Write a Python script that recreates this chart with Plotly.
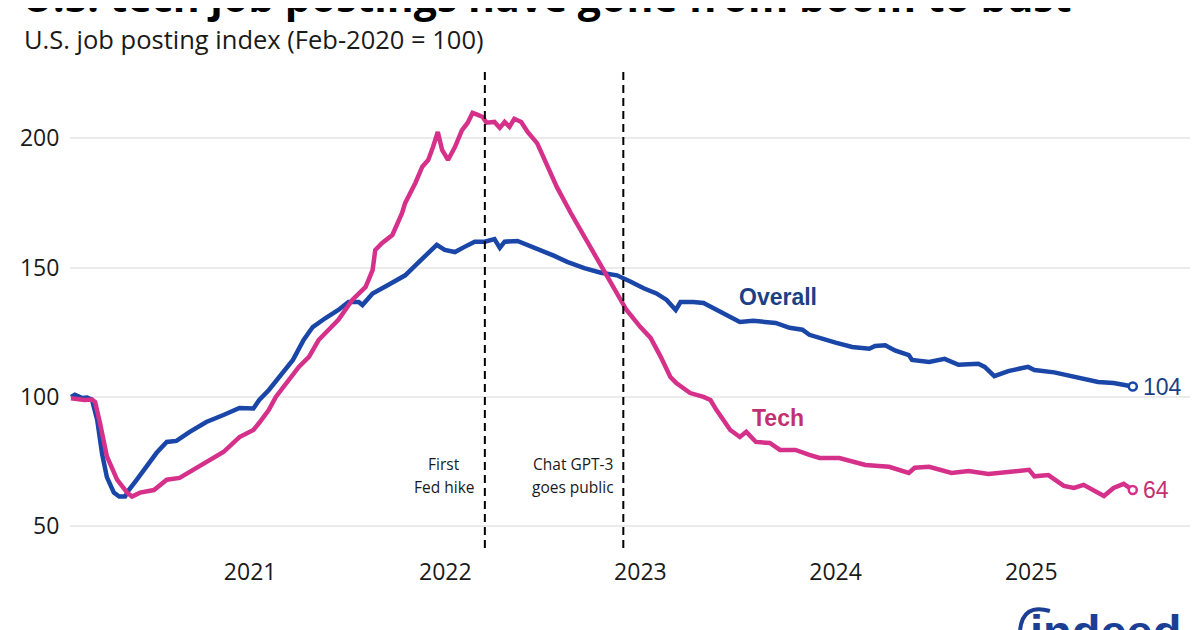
import plotly.graph_objects as go

# ---------------- data ----------------
overall_dates = [
    "2020-02-01", "2020-02-08", "2020-02-22", "2020-03-02", "2020-03-11", "2020-03-21",
    "2020-03-30", "2020-04-08", "2020-04-21", "2020-05-01", "2020-05-12", "2020-05-19",
    "2020-06-03", "2020-06-22", "2020-07-10", "2020-07-29", "2020-08-16", "2020-09-10",
    "2020-10-11", "2020-11-12", "2020-12-12", "2021-01-07", "2021-01-18", "2021-02-05",
    "2021-02-24", "2021-03-22", "2021-04-11", "2021-04-28", "2021-05-22", "2021-06-15",
    "2021-07-04", "2021-07-23", "2021-07-30", "2021-08-18", "2021-09-16", "2021-10-18",
    "2021-11-11", "2021-11-30", "2021-12-16", "2021-12-31", "2022-01-19", "2022-02-06",
    "2022-02-25", "2022-03-16", "2022-04-03", "2022-04-13", "2022-04-22", "2022-05-16",
    "2022-06-04", "2022-06-30", "2022-07-24", "2022-08-17", "2022-09-18", "2022-10-19",
    "2022-11-18", "2022-12-14", "2023-01-07", "2023-01-31", "2023-02-19", "2023-03-08",
    "2023-03-17", "2023-04-10", "2023-04-29", "2023-05-17", "2023-06-10", "2023-07-06",
    "2023-07-31", "2023-09-11", "2023-10-07", "2023-10-31", "2023-11-13", "2023-12-02",
    "2024-01-01", "2024-02-01", "2024-03-04", "2024-03-15", "2024-04-03", "2024-04-21",
    "2024-05-17", "2024-05-23", "2024-06-24", "2024-07-23", "2024-08-18", "2024-09-24",
    "2024-10-06", "2024-10-24", "2024-11-19", "2024-12-26", "2025-01-07", "2025-02-13",
    "2025-03-29", "2025-05-06", "2025-06-04", "2025-06-30", "2025-07-10",
]
overall_values = [
    100.0, 100.8, 99.6, 99.8, 99.0, 91.0,
    78.0, 69.0, 63.0, 61.5, 61.5, 64.0,
    68.0, 73.0, 78.4, 82.6, 83.0, 86.5,
    90.3, 93.0, 95.7, 95.5, 98.8, 102.7,
    107.7, 114.3, 122.0, 127.0, 130.5, 133.6,
    136.7, 136.7, 135.5, 140.0, 143.3, 147.0,
    151.8, 155.7, 158.8, 156.8, 156.0, 158.0,
    160.0, 160.0, 161.0, 157.6, 160.0, 160.3,
    158.8, 156.8, 154.5, 152.2, 149.8, 148.0,
    147.0, 144.5, 142.0, 140.0, 137.5, 133.6,
    136.7, 136.7, 136.3, 134.4, 131.7, 129.0,
    129.4, 128.6, 126.7, 126.0, 124.0, 123.0,
    121.0, 119.3, 118.6, 119.7, 120.0, 118.0,
    116.2, 114.3, 113.5, 114.7, 112.4, 112.8,
    111.6, 108.0, 110.0, 111.6, 110.4, 109.5,
    107.7, 105.8, 105.4, 104.6, 104.0,
]

tech_dates = [
    "2020-02-01", "2020-02-14", "2020-02-26", "2020-03-11", "2020-03-17", "2020-03-26",
    "2020-04-08", "2020-04-27", "2020-05-16", "2020-05-25", "2020-06-09", "2020-07-05",
    "2020-07-29", "2020-08-22", "2020-09-17", "2020-10-11", "2020-11-12", "2020-12-12",
    "2021-01-07", "2021-01-18", "2021-02-05", "2021-02-18", "2021-03-14", "2021-04-02",
    "2021-04-21", "2021-05-09", "2021-06-15", "2021-07-11", "2021-08-05", "2021-08-18",
    "2021-08-23", "2021-09-05", "2021-09-24", "2021-10-12", "2021-10-18", "2021-11-06",
    "2021-11-19", "2021-11-30", "2021-12-09", "2021-12-18", "2021-12-26", "2022-01-06",
    "2022-01-19", "2022-02-01", "2022-02-12", "2022-02-21", "2022-03-03", "2022-03-12",
    "2022-03-19", "2022-04-03", "2022-04-13", "2022-04-22", "2022-05-01", "2022-05-10",
    "2022-05-23", "2022-06-04", "2022-06-22", "2022-07-11", "2022-07-29", "2022-08-24",
    "2022-09-18", "2022-10-12", "2022-10-30", "2022-11-18", "2022-12-06", "2023-01-01",
    "2023-01-20", "2023-02-08", "2023-02-26", "2023-03-09", "2023-04-04", "2023-04-29",
    "2023-05-12", "2023-05-23", "2023-06-05", "2023-06-18", "2023-07-06", "2023-07-18",
    "2023-08-05", "2023-08-31", "2023-09-19", "2023-10-18", "2023-11-13", "2023-12-02",
    "2024-01-08", "2024-02-26", "2024-04-10", "2024-05-17", "2024-05-28", "2024-06-24",
    "2024-08-05", "2024-09-06", "2024-10-13", "2024-11-30", "2024-12-28", "2025-01-07",
    "2025-02-02", "2025-03-03", "2025-03-22", "2025-04-09", "2025-04-28", "2025-05-17",
    "2025-06-04", "2025-06-23", "2025-07-10",
]
tech_values = [
    99.5, 99.0, 98.8, 99.0, 98.0, 90.0,
    77.0, 68.0, 63.0, 61.5, 63.0, 64.0,
    68.0, 68.7, 71.8, 74.5, 78.7, 84.5,
    87.2, 90.0, 95.0, 100.0, 106.6, 111.6,
    115.5, 122.0, 129.8, 137.5, 142.5, 149.0,
    156.8, 159.5, 162.6, 171.0, 175.0, 182.7,
    189.0, 191.6, 196.6, 202.4, 195.5, 191.6,
    196.6, 203.0, 206.0, 209.8, 209.0, 208.2,
    206.0, 206.3, 204.0, 206.3, 204.4, 207.5,
    206.3, 202.4, 198.0, 189.0, 181.0, 171.0,
    162.0, 153.0, 146.4, 140.0, 133.6, 127.0,
    122.8, 115.5, 107.7, 105.4, 101.5, 100.0,
    98.8, 95.0, 91.0, 87.2, 84.5, 86.5,
    82.6, 82.2, 79.5, 79.5, 77.6, 76.4,
    76.4, 73.7, 73.0, 70.6, 72.6, 73.0,
    70.6, 71.4, 70.2, 71.0, 71.8, 69.3,
    69.8, 65.6, 64.8, 66.0, 63.7, 61.7,
    64.8, 66.4, 64.0,
]

year_ticks = ["2021-01-01", "2022-01-01", "2023-01-01", "2024-01-01", "2025-01-01"]
year_labels = ["2021", "2022", "2023", "2024", "2025"]
y_ticks = [50, 100, 150, 200]
baseline_value = 100

event_dates = ["2022-03-16", "2022-11-30"]
event_text = [["First", "Fed hike"], ["Chat GPT-3", "goes public"]]
event_text_x = ["2021-12-29", "2022-08-28"]

series_names = ["Overall", "Tech"]

# ---------------- styling ----------------
BLUE = "#1a46a8"
BLUE_TXT = "#1c3f86"
PINK = "#d6318a"
PINK_TXT = "#c42f72"
FONT = "Open Sans"

W, H = 1200, 630
OFF = 8  # page body margin offset of the rendered figure
# target plot box in screenshot pixels: x 63..1190, y 72..548
L = 63 - OFF
T = 72 - OFF
R = W - (1190 - OFF)
B = H - (548 - OFF)
plot_h = H - T - B
plot_w = W - L - R


def py(pixel_y):
    """screenshot pixel row -> paper y"""
    return ((548 - OFF) - (pixel_y - OFF)) / plot_h


def px(pixel_x):
    return ((pixel_x - OFF) - L) / plot_w


fig = go.Figure()

fig.add_trace(go.Scatter(x=overall_dates, y=overall_values, mode="lines",
                         line=dict(color=BLUE, width=4.5), name=series_names[0],
                         hoverinfo="skip"))
fig.add_trace(go.Scatter(x=tech_dates, y=tech_values, mode="lines",
                         line=dict(color=PINK, width=4.5), name=series_names[1],
                         hoverinfo="skip"))

# end markers
for d, v, c in [(overall_dates, overall_values, BLUE), (tech_dates, tech_values, PINK)]:
    fig.add_trace(go.Scatter(x=[d[-1]], y=[v[-1]], mode="markers",
                             marker=dict(size=8, color="white", line=dict(color=c, width=2.5)),
                             hoverinfo="skip"))

# baseline at 100
fig.add_shape(type="line", xref="paper", x0=0, x1=1, yref="y",
              y0=baseline_value, y1=baseline_value, line=dict(color="black", width=1.5),
              layer="below")

# event lines
for d in event_dates:
    fig.add_shape(type="line", xref="x", x0=d, x1=d, yref="paper", y0=0, y1=1,
                  line=dict(color="black", width=2, dash="8px,5px"))

# indeed logo arc
x0, y0 = px(1019), py(630)
xc, yc = px(1022), py(603)
x1, y1 = px(1049), py(611)
fig.add_shape(type="path", xref="paper", yref="paper",
              path=f"M {x0},{y0} Q {xc},{yc} {x1},{y1}",
              line=dict(color="#1b3f95", width=4))

annotations = []
for tx, lines in zip(event_text_x, event_text):
    for i, line in enumerate(lines):
        annotations.append(dict(x=tx, xref="x", y=py(464 + 23 * i), yref="paper",
                                text=line, showarrow=False, xanchor="center",
                                yanchor="middle",
                                font=dict(family=FONT, size=15.5, color="#1a1a1a")))

# series labels
annotations.append(dict(x="2023-09-15", xref="x", y=138.7, yref="y", text="<b>Overall</b>",
                        showarrow=False, xanchor="center", yanchor="middle",
                        font=dict(family="Liberation Sans", size=23, color=BLUE_TXT)))
annotations.append(dict(x="2023-09-15", xref="x", y=91.9, yref="y", text="<b>Tech</b>",
                        showarrow=False, xanchor="center", yanchor="middle",
                        font=dict(family="Liberation Sans", size=23, color=PINK_TXT)))

# end value labels
for d, v, c in [(overall_dates, overall_values, BLUE_TXT), (tech_dates, tech_values, PINK_TXT)]:
    annotations.append(dict(x=d[-1], xref="x", y=v[-1], yref="y", text=f"{round(v[-1])}",
                            showarrow=False, xanchor="left", yanchor="middle", xshift=8,
                            font=dict(family="Liberation Sans", size=23, color=c)))

# title & subtitle
annotations.append(dict(x=px(13), xref="paper", y=py(26), yref="paper",
                        text="<b>U.S. tech job postings have gone from boom to bust</b>",
                        showarrow=False, xanchor="left", yanchor="bottom",
                        font=dict(family=FONT, size=41, color="black")))
annotations.append(dict(x=px(15), xref="paper", y=py(58), yref="paper",
                        text="U.S. job posting index (Feb-2020 = 100)",
                        showarrow=False, xanchor="left", yanchor="bottom",
                        font=dict(family=FONT, size=25.5, color="#1a1a1a")))

# logo text
annotations.append(dict(x=px(1027), xref="paper", y=py(603), yref="paper",
                        text="<b>indeed</b>", showarrow=False, xanchor="left", yanchor="top",
                        font=dict(family="Liberation Sans", size=47, color="#1b3f95")))

fig.update_layout(
    width=W, height=H,
    margin=dict(l=L, r=R, t=T, b=B),
    paper_bgcolor="white", plot_bgcolor="white",
    showlegend=False,
    annotations=annotations,
    font=dict(family=FONT, color="#1a1a1a"),
    xaxis=dict(type="date", range=["2020-01-30", "2025-10-25"],
               tickvals=year_ticks, ticktext=year_labels,
               showgrid=False, zeroline=False, showline=False,
               ticks="outside", ticklen=3, tickcolor="rgba(0,0,0,0)",
               tickfont=dict(family=FONT, size=23, color="#1a1a1a")),
    yaxis=dict(range=[41.6, 225.6], tickvals=y_ticks,
               showgrid=True, gridcolor="#ebebeb", gridwidth=1.5,
               zeroline=False, showline=False,
               ticks="outside", ticklen=5, tickcolor="rgba(0,0,0,0)",
               tickfont=dict(family=FONT, size=23, color="#1a1a1a")),
)

fig.write_html("out.html")
